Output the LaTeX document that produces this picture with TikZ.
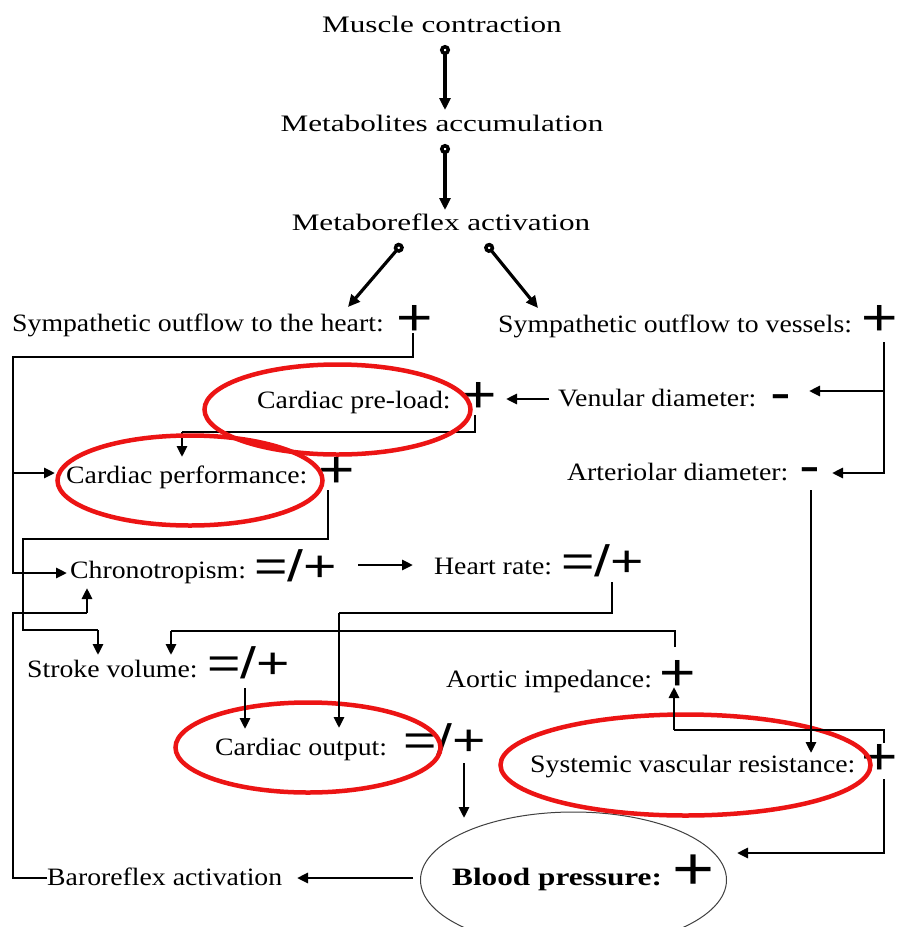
\documentclass[tikz,border=0pt]{standalone}
\usepackage{fontspec}
\setmainfont{Liberation Serif}
\newfontfamily\topfont[FakeStretch=1.32]{Liberation Serif}
\newfontfamily\txtfont[FakeStretch=1.11]{Liberation Serif}
\newfontfamily\bpfont[FakeStretch=1.25]{Liberation Serif}
\newfontfamily\symfont[FakeStretch=1.2]{Liberation Sans}
\newfontfamily\eqfont[FakeStretch=1.3]{Liberation Sans}
\usetikzlibrary{arrows.meta}
\definecolor{ovalred}{RGB}{236,20,20}
\begin{document}
\begin{tikzpicture}[x=1pt,y=-1pt,
  toptxt/.style={font=\topfont\fontsize{23.6pt}{28pt}\selectfont, inner sep=0pt, anchor=base},
  txt/.style={font=\txtfont\fontsize{25pt}{30pt}\selectfont, inner sep=0pt, anchor=base west},
  sym/.style={font=\symfont\fontsize{52pt}{60pt}\selectfont, inner sep=0pt, anchor=base},
  eqs/.style={font=\eqfont\fontsize{44pt}{50pt}\selectfont, inner sep=0pt, anchor=base west},
  conn/.style={line width=1.3pt, line join=miter},
  thk/.style={line width=2.8pt, -{Triangle[length=11pt,width=10pt]}},
  toparrow/.style={line width=3.2pt, {Circle[open,length=10pt,width=10pt,line width=3.5pt]}-{Triangle[length=12pt,width=11pt]}},
  redoval/.style={draw=ovalred, line width=4.5pt},
]
\useasboundingbox (0,0) rectangle (898,927);
\fill[white] (0,0) rectangle (898,927);

% ---------- texts ----------
\node[toptxt] (mc) at (442,32) {Muscle contraction};
\node[toptxt] (ma) at (442,131.5) {Metabolites accumulation};
\node[toptxt] (mra) at (441,230) {Metaboreflex activation};
\node[txt] (sh) at (12,331) {Sympathetic outflow to the heart:};
\node[sym] (shp) at (415,335) {+};
\node[txt] (sv) at (498,332) {Sympathetic outflow to vessels:};
\node[sym] (svp) at (880,335) {+};
\node[txt] (pl) at (257,408) {Cardiac pre-load:};
\node[sym] (plp) at (479,412) {+};
\node[txt] (vd) at (558,406) {Venular diameter:};
\node[sym] (vdm) at (780.5,410) {-};
\node[txt] (cp) at (66,483) {Cardiac performance:};
\node[sym] (cpp) at (336.5,487.6) {+};
\node[txt] (ad) at (567,480) {Arteriolar diameter:};
\node[sym] (adm) at (810,483) {-};
\node[txt] (ch) at (70,578) {Chronotropism:};
\node[eqs] (chs) at (254,581) {=/+};
\node[txt] (hr) at (434,574) {Heart rate:};
\node[eqs] (hrs) at (561,576.5) {=/+};
\node[txt] (sk) at (27,677) {Stroke volume:};
\node[eqs] (sks) at (207,678) {=/+};
\node[txt] (ai) at (446,687) {Aortic impedance:};
\node[sym] (aip) at (678,690.6) {+};
\node[txt] (co) at (215,755) {Cardiac output:};
\node[eqs] (cos) at (403,755) {=/+};
\node[txt] (svr) at (530,772) {Systemic vascular resistance:};
\node[sym] (svrp) at (880,774) {+};
\node[txt] (br) at (47,885) {Baroreflex activation};
\node[txt, font=\bpfont\bfseries\fontsize{25pt}{30pt}\selectfont] (bp) at (452,885) {Blood pressure:};
\node[sym, font=\symfont\fontsize{60pt}{66pt}\selectfont] (bpp) at (693.5,889) {+};

% ---------- connector end points ----------
\coordinate (mc-out) at (445,45);   \coordinate (ma-in) at (445,110);
\coordinate (ma-out) at (445,144);  \coordinate (mra-in) at (445,210);
\coordinate (mra-l) at (402,244);   \coordinate (sh-in) at (348,307);
\coordinate (mra-r) at (486,244);   \coordinate (sv-in) at (538,308);
\coordinate (shp-out) at (413,333); \coordinate (cp-in) at (55,473); \coordinate (ch-in) at (67,573);
\coordinate (plp-out) at (475,415); \coordinate (cp-top) at (182,457);
\coordinate (svp-out) at (884,342); \coordinate (vd-in) at (809,391); \coordinate (ad-in) at (832,473);
\coordinate (vd-out) at (549,399);  \coordinate (pl-in) at (506,399);
\coordinate (adm-out) at (811,490); \coordinate (svr-top) at (811,753);
\coordinate (cpp-out) at (328,490); \coordinate (sk-in) at (98,655);
\coordinate (chs-out) at (358,565); \coordinate (hr-in) at (413,565);
\coordinate (hrs-out) at (612,582); \coordinate (co-in2) at (339,728);
\coordinate (aip-out) at (675,647); \coordinate (sk-in2) at (171,655);
\coordinate (svrp-up) at (884,743); \coordinate (aip-in) at (674,687);
\coordinate (svrp-down) at (884,779); \coordinate (bp-in) at (737,853);
\coordinate (sks-out) at (245,688); \coordinate (co-in1) at (245,729);
\coordinate (cos-out) at (464,763); \coordinate (bp-top) at (464,818);
\coordinate (bp-out) at (413,878);  \coordinate (br-in) at (297,878);
\coordinate (br-out) at (47,878);   \coordinate (ch-up) at (87,588);

% pre-load -> performance (lies under the red ovals)
\draw[conn] (plp-out) -- (475,432) -- (182,432);
\draw[thk] (182,432) -- (cp-top);

% ---------- ovals ----------
\begin{scope}
\clip (0,0) rectangle (898,927);
\draw[line width=1pt, draw=black!75] (573.5,880) ellipse [x radius=153, y radius=68];
\end{scope}
\draw[redoval] (337.5,409.5) ellipse [x radius=133, y radius=45];
\draw[redoval] (190,480.5) ellipse [x radius=132.5, y radius=45];
\draw[redoval] (308,747.5) ellipse [x radius=132.5, y radius=45];
\draw[redoval] (685.5,765) ellipse [x radius=185, y radius=50.5];

% ---------- connectors ----------
\draw[toparrow] (mc-out) -- (ma-in);
\draw[toparrow] (ma-out) -- (mra-in);
\draw[toparrow] (mra-l) -- (sh-in);
\draw[toparrow] (mra-r) -- (sv-in);

% sympathetic heart
\draw[conn] (shp-out) -- (413,357) -- (13,357) -- (13,573);
\draw[thk] (13,473) -- (cp-in);
\draw[thk] (12.35,573) -- (ch-in);

% sympathetic vessels
\draw[conn] (svp-out) -- (884,473.65);
\draw[thk] (884.65,391) -- (vd-in);
\draw[thk] (884.65,473) -- (ad-in);
\draw[thk] (vd-out) -- (pl-in);
\draw[thk] (adm-out) -- (svr-top);

% performance -> stroke volume
\draw[conn] (cpp-out) -- (328,539) -- (23,539) -- (23,630) -- (98,630);
\draw[thk] (98,630) -- (sk-in);

% chronotropism -> heart rate
\draw[thk] (chs-out) -- (hr-in);

% heart rate -> cardiac output
\draw[conn] (hrs-out) -- (612,613) -- (339,613);
\draw[thk] (339,613) -- (co-in2);

% aortic impedance -> stroke volume
\draw[conn] (aip-out) -- (675,631) -- (171,631);
\draw[thk] (171,631) -- (sk-in2);

% SVR -> aortic impedance, SVR -> blood pressure
\draw[conn] (svrp-up) -- (884,730) -- (674,730);
\draw[thk] (674,730) -- (aip-in);
\draw[conn] (svrp-down) -- (884,853);
\draw[thk] (884.65,853) -- (bp-in);

% stroke volume / cardiac output -> blood pressure
\draw[thk] (sks-out) -- (co-in1);
\draw[thk] (cos-out) -- (bp-top);

% blood pressure -> baroreflex -> chronotropism
\draw[thk] (bp-out) -- (br-in);
\draw[conn] (br-out) -- (13,878) -- (13,613) -- (87,613);
\draw[thk] (87,613) -- (ch-up);
\end{tikzpicture}
\end{document}
